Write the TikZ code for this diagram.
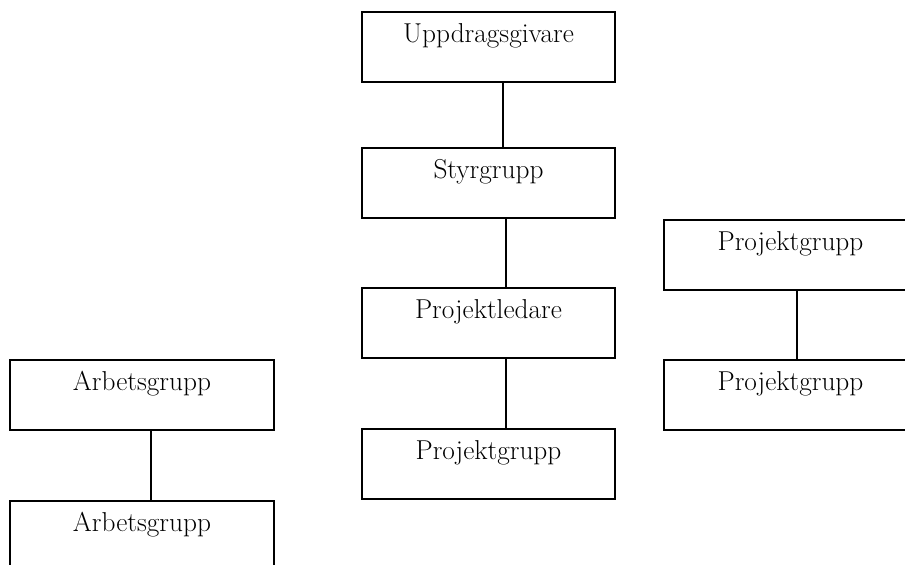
\documentclass[tikz,border=0pt]{standalone}
\usepackage{tikz}

\begin{document}
\begin{tikzpicture}[x=0.75pt,y=-0.75pt,
  box/.style={draw,line width=1.4pt,anchor=north,minimum width=189.75pt,
    inner sep=0pt,text height=23pt,text depth=29.5pt,
    font=\fontsize{20.5}{24}\selectfont},
  widebox/.style={box,minimum width=198pt},
  link/.style={line width=1.4pt}]
\path[use as bounding box,clip] (0,0) rectangle (905,564);
% middle column
\node[box] (giver) at (488.5,11) {Uppdragsgivare};
\node[box] (styr) at (488.5,147) {Styrgrupp};
\node[box] (ledare) at (488.5,287) {Projektledare};
\node[box] (projmid) at (488.5,428) {Projektgrupp};
% right column
\node[box] (projtop) at (790.5,219) {Projektgrupp};
\node[box] (projlow) at (790.5,359) {Projektgrupp};
% left column
\node[widebox] (arbtop) at (142,359) {Arbetsgrupp};
\node[widebox] (arblow) at (142,500) {Arbetsgrupp};
% links
\draw[link] ([xshift=10.9pt]giver.south) -- ([xshift=10.9pt]styr.north);
\draw[link] ([xshift=13.1pt]styr.south) -- ([xshift=13.1pt]ledare.north);
\draw[link] ([xshift=13.1pt]ledare.south) -- ([xshift=13.1pt]projmid.north);
\draw[link] ([xshift=4.9pt]projtop.south) -- ([xshift=4.9pt]projlow.north);
\draw[link] ([xshift=6.75pt]arbtop.south) -- ([xshift=6.75pt]arblow.north);
\end{tikzpicture}
\end{document}
